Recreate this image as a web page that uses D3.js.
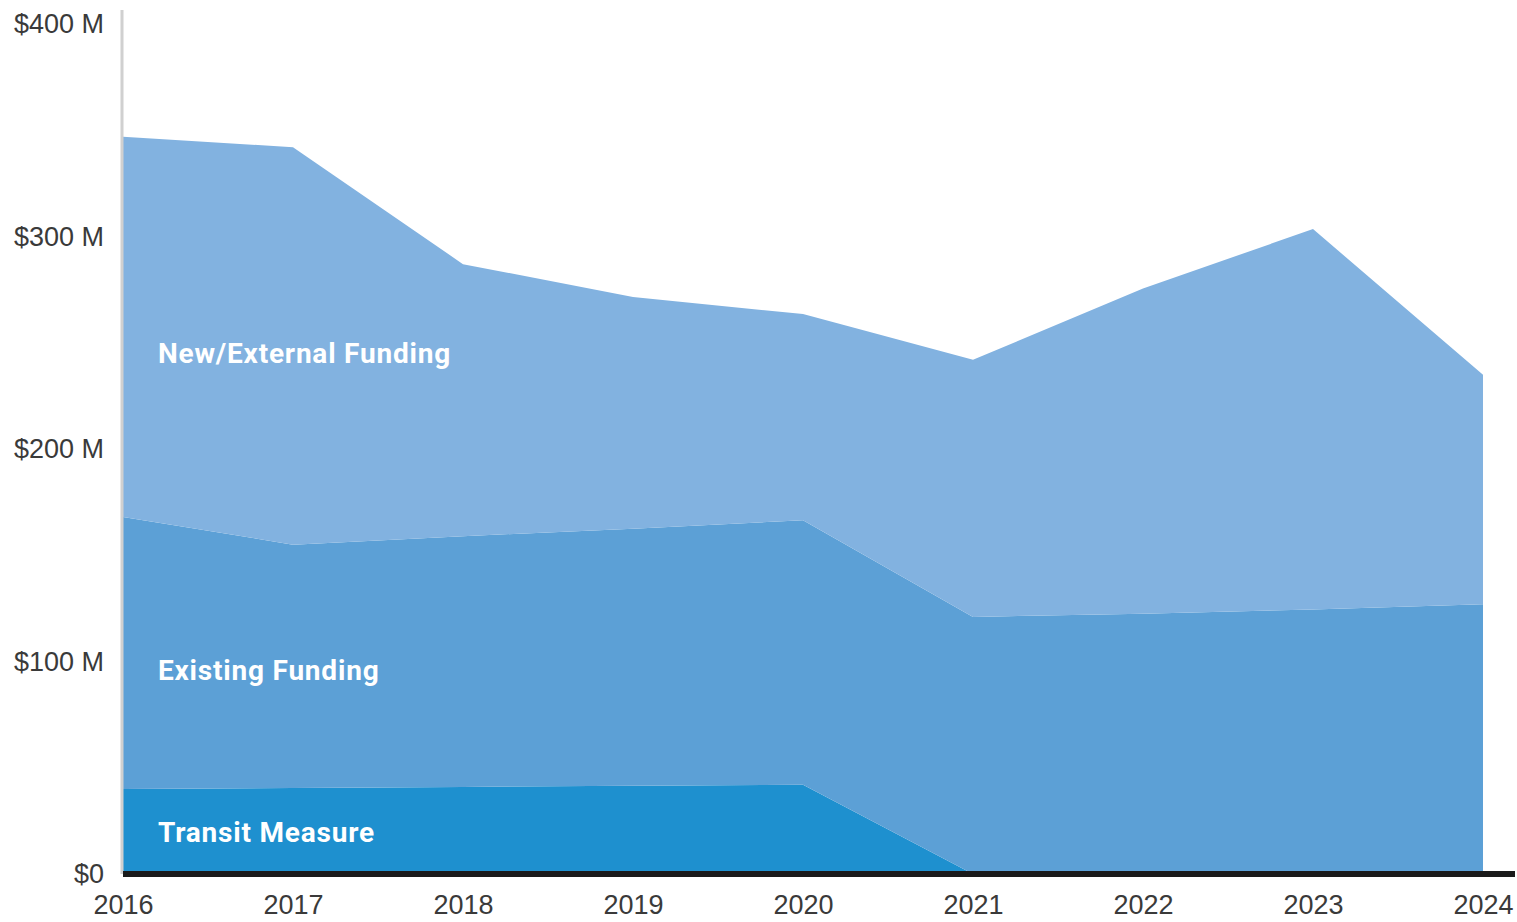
<!DOCTYPE html>
<html lang="en">
<head>
    <meta charset="utf-8">
    <title>Funding by Source</title>
    <style>
        body {
            margin: 0;
            background: #fff;
            font-family: Roboto, sans-serif;
        }

        .tick text {
            font-size: 27px;
            fill: #3a3a3a;
        }

        .series-label {
            font-size: 28px;
            font-weight: bold;
            letter-spacing: 0.8px;
            fill: #fff;
        }
    </style>
</head>
<body>
<svg class="chart"></svg>
<script src="https://d3js.org/d3.v7.min.js"></script>
<script>

  const years = [2016, 2017, 2018, 2019, 2020, 2021, 2022, 2023, 2024];
  const transitMeasure = [40, 40.5, 41, 41.5, 42, 0, 0, 0, 0];
  const existingFunding = [128, 114.5, 118, 121, 124.5, 121, 122.5, 124.5, 127];
  const newExternalFunding = [179, 187, 128, 109, 97, 121, 153, 179, 108];
  const yTicks = [0, 100, 200, 300, 400];

  const keys = ["transit", "existing", "newExt"];
  const labels = {
    transit: "Transit Measure",
    existing: "Existing Funding",
    newExt: "New/External Funding"
  };
  const colors = {
    transit: "#1e90cf",
    existing: "#5ca0d6",
    newExt: "#82b2e0"
  };
  const labelY = { transit: 842, existing: 680, newExt: 363 };

  const width = 1517;
  const height = 922;

  const rows = years.map((yr, i) => ({
    year: yr,
    transit: transitMeasure[i],
    existing: existingFunding[i],
    newExt: newExternalFunding[i]
  }));

  const xScale = d3.scaleLinear()
    .domain(d3.extent(years))
    .range([123, 1483]);

  const yScale = d3.scaleLinear()
    .domain([0, 400])
    .range([874, 24]);

  const series = d3.stack().keys(keys)(rows);

  const area = d3.area()
    .x(d => xScale(d.data.year))
    .y0(d => yScale(d[0]))
    .y1(d => yScale(d[1]));

  const svg = d3.select(".chart")
    .attr("width", width)
    .attr("height", height);

  svg.selectAll("path.layer")
    .data(series)
    .enter()
    .append("path")
    .attr("class", "layer")
    .attr("d", area)
    .style("fill", d => colors[d.key]);

  // series names sit inside their bands
  svg.selectAll("text.series-label")
    .data(keys)
    .enter()
    .append("text")
    .attr("class", "series-label")
    .attr("x", 158)
    .attr("y", k => labelY[k])
    .text(k => labels[k]);

  // light vertical rule on the left
  svg.append("line")
    .attr("x1", 122).attr("x2", 122)
    .attr("y1", 10).attr("y2", 874)
    .style("stroke", "#d0d0d0")
    .style("stroke-width", 3);

  const yAxis = d3.axisLeft(yScale)
    .tickValues(yTicks)
    .tickSize(0)
    .tickPadding(0)
    .tickFormat(d => d === 0 ? "$0" : `$${d} M`);

  svg.append("g")
    .attr("transform", "translate(104,0)")
    .call(yAxis)
    .call(g => g.select(".domain").remove());

  const xAxis = d3.axisBottom(xScale)
    .tickValues(years)
    .tickSize(0)
    .tickPadding(21)
    .tickFormat(d3.format("d"));

  svg.append("g")
    .attr("transform", "translate(0,874)")
    .call(xAxis)
    .call(g => g.select(".domain").remove());

  // heavy baseline
  svg.append("line")
    .attr("x1", 123).attr("x2", 1515)
    .attr("y1", 874).attr("y2", 874)
    .style("stroke", "#1a1a1a")
    .style("stroke-width", 6);

</script>

</body>
</html>
